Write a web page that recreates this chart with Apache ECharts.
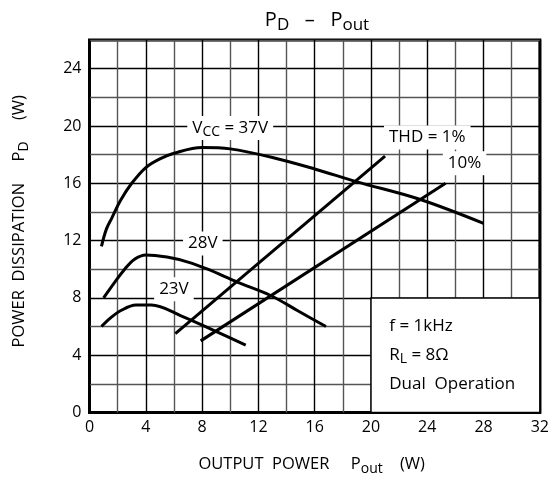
<!DOCTYPE html>
<html>
<head>
<meta charset="utf-8">
<script src="https://cdn.jsdelivr.net/npm/echarts@6/dist/echarts.min.js"></script>
<style>
html,body{margin:0;padding:0;background:#fff;}
#chart{width:552px;height:481px;}
</style>
</head>
<body>
<div id="chart"></div>
<script>
// curves: [Pout, PD]
var vcc37 = [[0.85,11.6],[1.2,12.8],[1.6,13.6],[2.2,14.8],[3,16.0],[4,17.1],[5,17.7],[6,18.1],[8,18.5],[10,18.4],[13,17.8],[16,17.0],[19,16.1],[23.4,14.9],[28,13.2]];
var vcc28 = [[1.0,8.0],[1.8,9.1],[2.5,10.0],[3.2,10.7],[4,11.0],[5.5,10.85],[7,10.5],[8.4,10.0],[10.5,9.1],[12.9,8.15],[14.8,7.1],[16.8,6.0]];
var vcc23 = [[0.85,6.0],[1.5,6.6],[2.2,7.1],[3.3,7.5],[4.4,7.5],[6.5,6.75],[8.9,5.7],[11.1,4.7]];
var thd1 = [[6.1,5.5],[21.0,17.9]];
var thd10 = [[7.9,5.0],[25.3,16.0]];

var xTicks = [0,4,8,12,16,20,24,28,32];
var yTicks = [0,4,8,12,16,20,24];

// label anchors (data coords) and texts
var curveNotes = [
  [10.0,19.85,'{t|V}{s|CC}{t| = 37V}'],
  [24.0,19.2,'{t|THD = 1%}'],
  [26.65,17.4,'{t|10%}'],
  [8.05,11.8,'{t|28V}'],
  [6.0,8.6,'{t|23V}']
];
var boxNotes = [
  [21.3,6,'{t|f = 1kHz}'],
  [21.3,4,'{t|R}{s|L}{t| = 8Ω}'],
  [21.3,2,'{t|Dual  Operation}']
];

var FONT = 'Open Sans';
var rich = {
  t:{fontFamily:FONT,fontSize:17,color:'#000',lineHeight:22,textBorderWidth:0},
  s:{fontFamily:FONT,fontSize:14,color:'#000',lineHeight:22,padding:[8,0,0,0],textBorderWidth:0}
};
var nameRich = {
  t:{fontFamily:FONT,fontSize:16.5,color:'#000',lineHeight:22},
  s:{fontFamily:FONT,fontSize:14,color:'#000',lineHeight:22,padding:[9,0,0,0]}
};

var chart = echarts.init(document.getElementById('chart'));

function curve(data){
  return {type:'line',data:data,smooth:0.35,showSymbol:false,symbol:'none',z:4,
    lineStyle:{color:'#000',width:3}};
}
function straight(data){
  return {type:'line',data:data,showSymbol:false,symbol:'none',z:4,
    lineStyle:{color:'#000',width:3}};
}

var option = {
  animation:false,
  backgroundColor:'#fff',
  title:{
    text:'{t|P}{s|D}{t|   –   P}{s|out}',
    left:312, top:1, textAlign:'center',
    textStyle:{fontWeight:'normal',rich:{
      t:{fontFamily:FONT,fontSize:20,fontWeight:'normal',color:'#000',lineHeight:28},
      s:{fontFamily:FONT,fontSize:17,fontWeight:'normal',color:'#000',lineHeight:28,padding:[10,0,0,0]}
    }}
  },
  grid:{left:88,right:11,top:40,bottom:67,show:true,borderColor:'#000',borderWidth:3,backgroundColor:'#fff'},
  xAxis:{
    type:'value',min:0,max:32,interval:2,
    name:'{t|OUTPUT  POWER     P}{s|out}{t|    (W)}',
    nameLocation:'middle',nameGap:41,
    nameTextStyle:{rich:nameRich,padding:[0,6,0,0]},
    axisLine:{show:false},axisTick:{show:false},
    axisLabel:{fontFamily:FONT,fontSize:16,color:'#000',margin:7,
      formatter:function(v){return xTicks.indexOf(v)>=0?String(v):'';}},
    splitLine:{show:true,lineStyle:{color:['#000','#555'],width:1.4}}
  },
  yAxis:{
    type:'value',min:0,max:26,interval:2,
    name:'{t|POWER  DISSIPATION     P}{s|D}{t|     (W)}',
    nameLocation:'middle',nameGap:59,nameRotate:90,
    nameTextStyle:{rich:nameRich,padding:[0,0,0,10]},
    axisLine:{show:false},axisTick:{show:false},
    axisLabel:{fontFamily:FONT,fontSize:16,color:'#000',margin:8,
      formatter:function(v){return yTicks.indexOf(v)>=0?String(v):'';}},
    splitLine:{show:true,lineStyle:{color:['#000','#555'],width:1.4}}
  },
  series:[
    {type:'line',data:[],z:1,silent:true,
      markArea:{silent:true,itemStyle:{color:'#fff',borderColor:'#000',borderWidth:1.5,opacity:1},
        data:[[{coord:[20,0]},{coord:[32,8]}]]}},
    curve(vcc37),curve(vcc28),curve(vcc23),straight(thd1),straight(thd10),
    {type:'scatter',symbolSize:0,z:6,silent:true,itemStyle:{color:'#000',opacity:1},
      data:curveNotes.map(function(n){return {value:[n[0],n[1]],label:{formatter:n[2]}};}),
      label:{show:true,position:'inside',color:'#000',textBorderWidth:0,
        backgroundColor:'#fff',padding:[1,5],rich:rich}},
    {type:'scatter',symbolSize:0,z:6,silent:true,itemStyle:{color:'#000',opacity:1},
      data:boxNotes.map(function(n){return {value:[n[0],n[1]],label:{formatter:n[2]}};}),
      label:{show:true,position:'right',distance:0,color:'#000',textBorderWidth:0,rich:rich}}
  ]
};
chart.setOption(option);
</script>
</body>
</html>
